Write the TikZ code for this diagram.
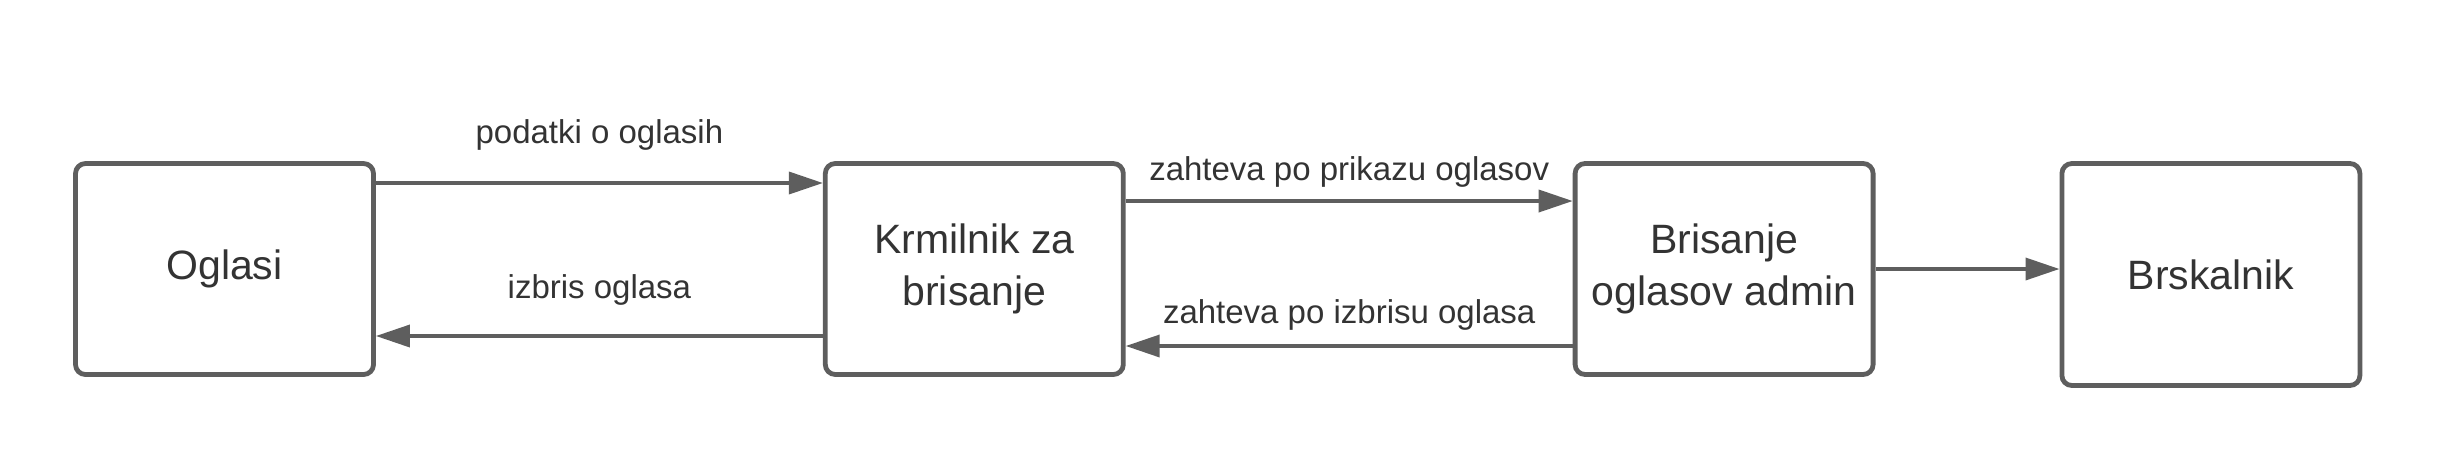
\documentclass[tikz,border=0pt]{standalone}
\usepackage{fontspec}
\setmainfont{Liberation Sans}
\usetikzlibrary{positioning, arrows.meta}
\definecolor{linegray}{HTML}{5E5E5E}
\definecolor{textgray}{HTML}{333333}
\begin{document}
\begin{tikzpicture}[
        x                   = 0.5pt,
        y                   = -0.5pt,
        node distance       = 223.5pt,
        box/.style          = {draw=linegray, line width=2.4pt, rounded corners=5pt, fill=white,
                               minimum width=149pt, minimum height=105.5pt, align=center,
                               text=textgray, font=\fontsize{20.5}{26}\selectfont},
        flow/.style         = {draw=linegray, line width=1.8pt, -{Triangle[length=17pt, width=11pt]}},
        lbl/.style          = {text=textgray, font=\fontsize{16.5}{20}\selectfont, anchor=base},
    ]
    \useasboundingbox (0,0) rectangle (2438,463);

    \node[box] (oglasi) at (224.5,269) {Oglasi};
    \node[box, right=of oglasi] (krmilnik) {Krmilnik za\\brisanje};
    \node[box, right=of krmilnik] (brisanje) {Brisanje\\oglasov admin};
    \node[box, minimum height=111pt, right=92pt of brisanje.north east, anchor=north west] (brskalnik) {Brskalnik};

    % povezave
    \draw[flow] ([yshift=43pt]oglasi.east) -- ([yshift=43pt]krmilnik.west)
        node[lbl, midway, yshift=20pt] {podatki o oglasih};
    \draw[flow] ([yshift=-33.5pt]krmilnik.west) -- ([yshift=-33.5pt]oglasi.east)
        node[lbl, midway, yshift=19pt] {izbris oglasa};
    \draw[flow] ([yshift=34pt]krmilnik.east) -- ([yshift=34pt]brisanje.west)
        node[lbl, midway, yshift=10.5pt] {zahteva po prikazu oglasov};
    \draw[flow] ([yshift=-38.5pt]brisanje.west) -- ([yshift=-38.5pt]krmilnik.east)
        node[lbl, midway, yshift=11.5pt] {zahteva po izbrisu oglasa};
    \draw[flow] (brisanje.east) -- (brisanje.east -| brskalnik.west);
\end{tikzpicture}
\end{document}
